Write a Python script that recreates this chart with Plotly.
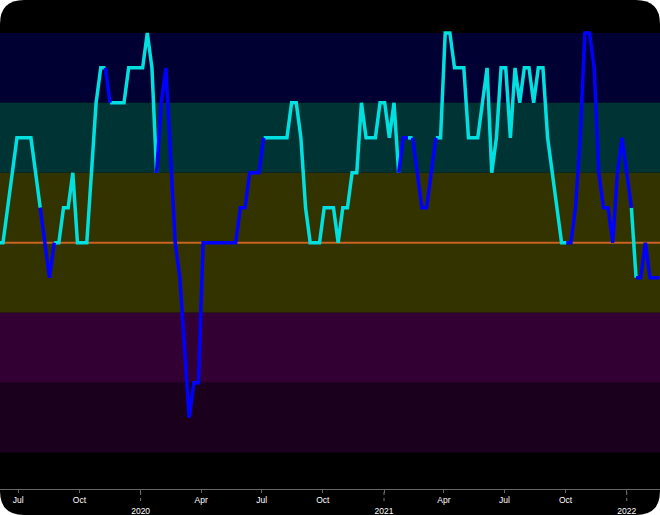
import itertools
import pandas as pd
import plotly.graph_objects as go

# weekly readings, starting 2019-06-01
start = "2019-06-01"
values = [0,
    0, 0.5, 1, 1.5, 1.5, 1.5, 1.5, 1, 0.5, 0,
    -0.5, 0, 0, 0.5, 0.5, 1, 0, 0, 0, 1,
    2, 2.5, 2.5, 2, 2, 2, 2, 2.5, 2.5, 2.5,
    2.5, 3, 2.5, 1, 2, 2.5, 1.25, 0, -0.5, -1.5,
    -2.5, -2, -2, 0, 0, 0, 0, 0, 0, 0,
    0, 0.5, 0.5, 1, 1, 1, 1.5, 1.5, 1.5, 1.5,
    1.5, 1.5, 2, 2, 1.5, 0.5, 0, 0, 0, 0.5,
    0.5, 0.5, 0, 0.5, 0.5, 1, 1, 2, 1.5, 1.5,
    1.5, 2, 2, 1.5, 2, 1, 1.5, 1.5, 1.5, 1,
    0.5, 0.5, 1, 1.5, 1.5, 3, 3, 2.5, 2.5, 2.5,
    1.5, 1.5, 1.5, 2, 2.5, 1, 1.5, 2.5, 2.5, 1.5,
    2.5, 2, 2.5, 2.5, 2, 2.5, 2.5, 1.5, 1, 0.5,
    0, 0, 0, 0.5, 1.5, 3, 3, 2.5, 1, 0.5,
    0.5, 0, 1, 1.5, 1, 0.5, -0.5, -0.5, 0, -0.5,
    -0.5, -0.5]

# 1 = cyan, 0 = blue (colour of the segment leaving each point)
trend = ([1] * 9 + [0] * 3 + [1] * 11 + [0] * 1 + [1] * 10 + [0] * 23 + [1] * 29
         + [0] * 2 + [1] * 1 + [0] * 5 + [1] * 28 + [0] * 14 + [1] * 1 + [0] * 6)

dates = pd.date_range(start, periods=len(values), freq="7D")

bands = [(2, 3, "#000033"), (1, 2, "#003333"), (0, 1, "#333300"),
         (-1, 0, "#333300"), (-2, -1, "#330033"), (-3, -2, "#1a001c")]

tick_dates = pd.date_range("2019-07-01", "2022-01-01", freq="QS")
tick_text = ["<br>%d" % d.year if d.month == 1 else d.strftime("%b") for d in tick_dates]

W, H, B = 660, 515, 26
ph = H - B
r = 24
rx, ry = r / W, r / ph
y0 = -B / ph

shapes = [dict(type="path", xref="paper", yref="paper", layer="below",
               path=f"M {rx},{y0} L {1-rx},{y0} Q 1,{y0} 1,{y0+ry} L 1,{1-ry} "
                    f"Q 1,1 {1-rx},1 L {rx},1 Q 0,1 0,{1-ry} L 0,{y0+ry} Q 0,{y0} {rx},{y0} Z",
               fillcolor="black", line=dict(width=0))]
for lo, hi, c in bands:
    shapes.append(dict(type="rect", xref="paper", x0=0, x1=1, yref="y", y0=lo, y1=hi,
                       fillcolor=c, line=dict(width=0), layer="below"))
shapes.append(dict(type="line", xref="paper", x0=0, x1=1, yref="y", y0=0, y1=0,
                   line=dict(color="#c8641e", width=2), layer="below"))
for d in tick_dates:
    if d.month == 1:
        shapes.append(dict(type="line", xref="x", x0=d, x1=d, yref="paper",
                           y0=-3 / ph, y1=-12 / ph,
                           line=dict(color="#777", width=1, dash="dot")))

fig = go.Figure()
for col, name in [(1, "#00e0e0"), (0, "#0000ff")]:
    xs, ys = [], []
    for key, grp in itertools.groupby(range(len(values) - 1), key=lambda k: trend[k]):
        idx = list(grp)
        if key == col:
            xs += list(dates[idx[0]:idx[-1] + 2]) + [None]
            ys += values[idx[0]:idx[-1] + 2] + [None]
    fig.add_trace(go.Scatter(x=xs, y=ys, mode="lines",
                             line=dict(color=name, width=3.5), hoverinfo="skip"))

fig.update_layout(
    width=W, height=H,
    margin=dict(l=0, r=0, t=0, b=B),
    paper_bgcolor="white",
    plot_bgcolor="rgba(0,0,0,0)",
    showlegend=False,
    shapes=shapes,
    xaxis=dict(type="date", range=["2019-06-03 12:00", "2022-02-20"],
               tickvals=tick_dates, ticktext=tick_text,
               showgrid=False, zeroline=False, showline=True, linecolor="#666",
               ticks="outside", ticklen=3, tickcolor="#666",
               tickfont=dict(family="Liberation Sans, Arial", size=8.5, color="white")),
    yaxis=dict(range=[-3.52, 3.47], visible=False),
)
fig.write_html("out.html", config={"displayModeBar": False},
               post_script="document.body.style.margin='0';")
